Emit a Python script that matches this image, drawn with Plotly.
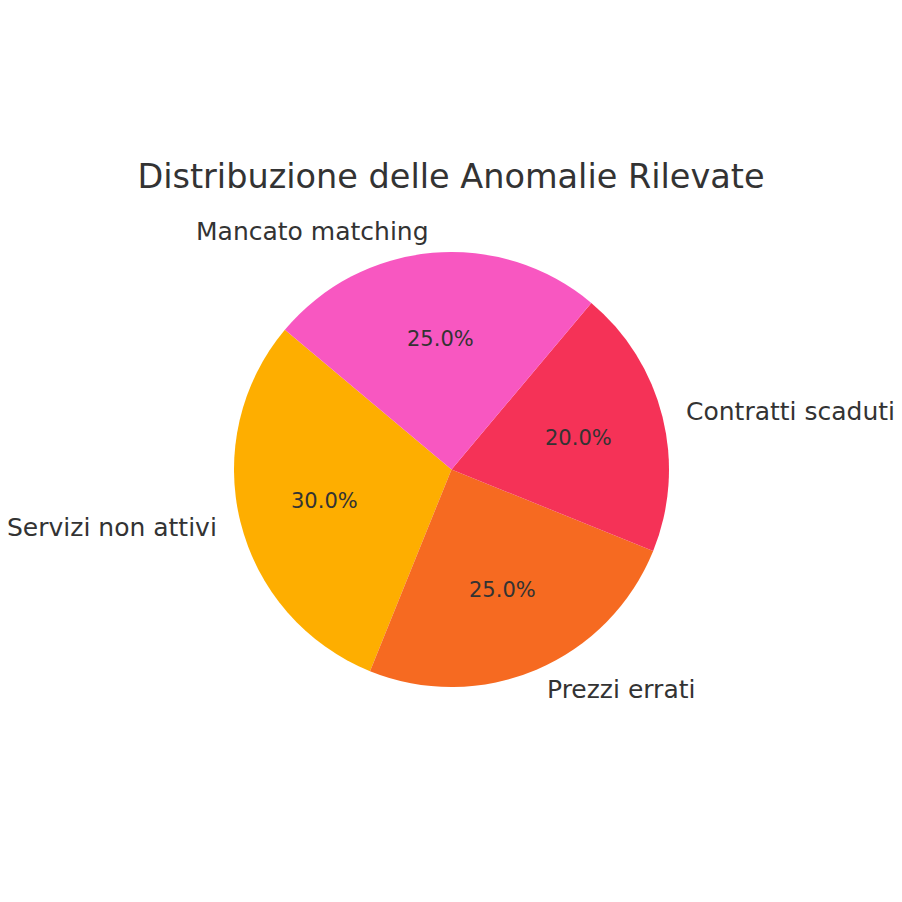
import math
import plotly.graph_objects as go

labels = ["Servizi non attivi", "Prezzi errati", "Contratti scaduti", "Mancato matching"]
values = [30, 25, 20, 25]
colors = ["#FEAE00", "#F66A21", "#F53257", "#F857C1"]
title = "Distribuzione delle Anomalie Rilevate"
start_angle = 140  # degrees, math convention, counterclockwise

# page body has an 8px margin, so the figure occupies 886x886 starting at (8, 8)
OFF, SIZE = 8, 886


def px_x(p):
    return (p - OFF) / SIZE


def px_y(p):
    return 1 - (p - OFF) / SIZE


cx_px, cy_px, r_px = 451.5, 469.5, 217.5
dom_x = [px_x(cx_px - r_px), px_x(cx_px + r_px)]
dom_y = [px_y(cy_px + r_px), px_y(cy_px - r_px)]

total = sum(values)
# plotly counterclockwise: first slice ends at `rotation`, measured clockwise from 12 o'clock
rotation = 90 - start_angle - 360 * values[0] / total

fig = go.Figure(go.Pie(
    labels=labels, values=values, sort=False,
    direction="counterclockwise", rotation=rotation,
    marker=dict(colors=colors, line=dict(width=0)),
    textinfo="none", showlegend=False,
    domain=dict(x=dom_x, y=dom_y),
))

cx = (dom_x[0] + dom_x[1]) / 2
cy = (dom_y[0] + dom_y[1]) / 2
r = r_px / SIZE
ang = start_angle
txt_color = "#333333"
for lab, v in zip(labels, values):
    sweep = 360 * v / total
    mid = math.radians(ang + sweep / 2)
    ang += sweep
    c, s = math.cos(mid), math.sin(mid)
    fig.add_annotation(
        x=cx + 0.6 * r * c, y=cy + 0.6 * r * s, xref="paper", yref="paper",
        text=f"{100 * v / total:.1f}%", showarrow=False,
        xanchor="center", yanchor="middle",
        font=dict(size=21, color=txt_color, family="DejaVu Sans"),
    )
    fig.add_annotation(
        x=cx + 1.1 * r * c, y=cy + 1.1 * r * s, xref="paper", yref="paper",
        text=lab, showarrow=False,
        xanchor="left" if c > 0 else "right", yanchor="middle",
        font=dict(size=25, color=txt_color, family="DejaVu Sans"),
    )

fig.update_layout(
    margin=dict(l=0, r=0, t=0, b=0),
    paper_bgcolor="white", plot_bgcolor="white",
    font=dict(family="DejaVu Sans", color=txt_color),
    title=dict(text=title, x=0.5, xanchor="center", y=px_y(176), yanchor="middle",
               font=dict(size=33.5, color=txt_color, family="DejaVu Sans")),
)

fig.write_html("out.html")
